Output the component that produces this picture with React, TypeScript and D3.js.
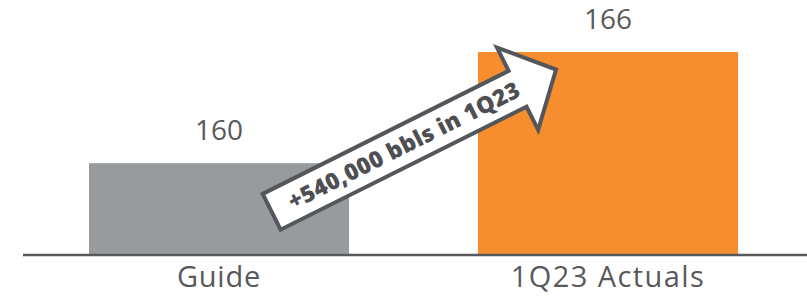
import React from 'react';
import * as d3 from 'd3';

const categories = ['Guide', '1Q23 Actuals'];
const values = [160, 166];
const barColors = ['#979b9d', '#f68d2e'];
const arrowLabel = '+540,000 bbls in 1Q23';

const W = 807;
const H = 297;
const TEXT = '#58595b';

const App: React.FC = () => {
  const x = d3.scaleBand<string>().domain(categories).range([11.2, 815.8]).paddingInner(0.3316).paddingOuter(0.2);
  const y = d3.scaleLinear().domain([155.1, 166]).range([254, 52]);

  // block arrow, drawn along its own axis then rotated
  const arrowPath = 'M2,2 L277,2 L277,-24 L320,22 L277,68 L277,42 L2,42 Z';
  const angle = -26.57;

  return (
    <svg width={W} height={H} style={{ position: 'absolute', left: 0, top: 0 }}>
      <rect width={W} height={H} fill="#fff" />
      {categories.map((c, i) => (
        <g key={c}>
          <rect
            x={x(c)}
            y={y(values[i])}
            width={x.bandwidth()}
            height={254 - y(values[i])}
            fill={barColors[i]}
          />
          <text
            x={(x(c) ?? 0) + x.bandwidth() / 2}
            y={y(values[i]) - 23}
            textAnchor="middle"
            fontFamily="'Open Sans', sans-serif"
            fontSize={28}
            fill={TEXT}
          >
            {values[i]}
          </text>
          <text
            x={(x(c) ?? 0) + x.bandwidth() / 2}
            y={287}
            textAnchor="middle"
            fontFamily="'Open Sans', sans-serif"
            fontSize={29}
            letterSpacing={i === 0 ? 0.8 : 1.4}
            fill={TEXT}
          >
            {c}
          </text>
        </g>
      ))}
      <line x1={23} x2={807} y1={255} y2={255} stroke="#58595b" strokeWidth={2.5} />
      <g transform={`translate(260,193) rotate(${angle})`}>
        <path d={arrowPath} fill="#fff" stroke="#53565a" strokeWidth={4} strokeLinejoin="miter" />
        <text
          x={150}
          y={30}
          textAnchor="middle"
          fontFamily="'Open Sans', sans-serif"
          fontWeight={800}
          fontSize={23}
          letterSpacing={0.3}
          fill="#4d4f53"
        >
          {arrowLabel}
        </text>
      </g>
    </svg>
  );
};

export default App;
